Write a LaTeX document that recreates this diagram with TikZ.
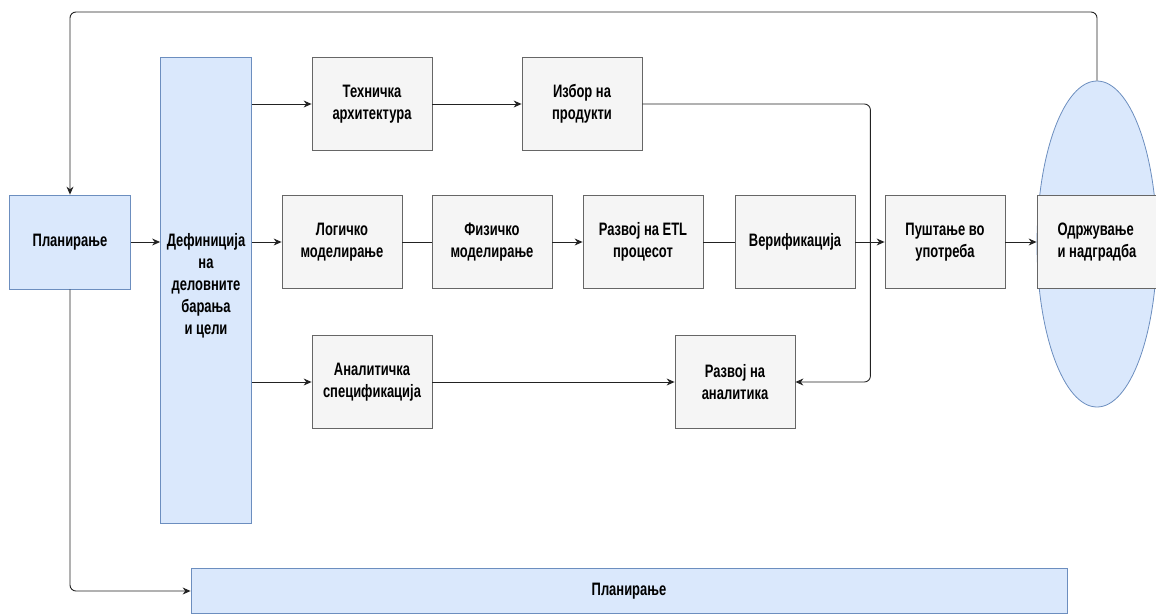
\documentclass[tikz,border=0pt]{standalone}
\usepackage{fontspec}
\setmainfont{Liberation Sans}[FakeStretch=0.72]
\usetikzlibrary{arrows.meta,shapes.geometric}
\definecolor{bluefill}{HTML}{DAE8FC}
\definecolor{bluedraw}{HTML}{6C8EBF}
\definecolor{grayfill}{HTML}{F5F5F5}
\definecolor{graydraw}{HTML}{666666}
\definecolor{linecol}{HTML}{222222}
\begin{document}
\begin{tikzpicture}[x=1pt, y=-1pt, font=\bfseries\fontsize{18}{22}\selectfont,
    bluebox/.style={draw=bluedraw, fill=bluefill, line width=0.8pt, inner sep=0pt, align=center},
    graybox/.style={draw=graydraw, fill=grayfill, line width=0.8pt, minimum width=120pt, minimum height=93pt, inner sep=0pt, align=center},
    conn/.style={draw=linecol, line width=0.9pt},
    >={Stealth[length=8pt, width=7pt]}]
        \useasboundingbox (0,0) rectangle (1156,614);
        % left column
        \node[bluebox, minimum width=121pt, minimum height=94pt] (plan) at (70,242) {Планирање};
        \node[bluebox, minimum width=91pt, minimum height=466pt] (def) at (206,290) {};
        \node[align=center, inner sep=0pt] (deftext) at (206,286) {Дефиниција\\на\\деловните\\барања\\и цели};
        \node[bluebox, minimum width=876pt, minimum height=45pt] (plan2) at (629,591) {Планирање};
        % maintenance
        \node[ellipse, draw=bluedraw, fill=bluefill, line width=0.8pt, minimum width=120pt, minimum height=326pt] (maintbg) at (1097,244) {};
        \node[graybox, align=left] (maint) at (1097,242) {Одржување\\и надградба};
        % top row
        \node[graybox] (tech) at (372,104) {Техничка\\архитектура};
        \node[graybox] (prod) at (582,104) {Избор на\\продукти};
        % middle row
        \node[graybox] (logic) at (342,242) {Логичко\\моделирање};
        \node[graybox] (phys) at (492,242) {Физичко\\моделирање};
        \node[graybox] (etl) at (643,242) {Развој на ETL\\процесот};
        \node[graybox] (verif) at (795,242) {Верификација};
        \node[graybox] (deploy) at (945,242) {Пуштање во\\употреба};
        % bottom row
        \node[graybox] (aspec) at (372,382) {Аналитичка\\спецификација};
        \node[graybox] (analyt) at (735,382) {Развој на\\аналитика};

        % connectors
        \draw[conn, ->] (plan.east) -- (plan.east -| def.west);
        \draw[conn, ->] (def.east |- tech.west) -- (tech.west);
        \draw[conn, ->] (def.east |- logic.west) -- (logic.west);
        \draw[conn, ->] (def.east |- aspec.west) -- (aspec.west);
        \draw[conn, ->] (tech) -- (prod);
        \draw[conn] (logic) -- (phys);
        \draw[conn, ->] (phys) -- (etl);
        \draw[conn] (etl) -- (verif);
        \draw[conn, ->] (verif) -- (deploy);
        \draw[conn, ->] (deploy) -- (maint);
        \draw[conn, ->] (aspec) -- (analyt);
        \draw[conn, ->, rounded corners=6pt] (prod.east) -- ++(228,0) |- (analyt.east);
        \draw[conn, ->, rounded corners=6pt] (maintbg.north) |- (70,12) -- (plan.north);
        \draw[conn, ->, rounded corners=6pt] (plan.south) |- (plan2.west);
\end{tikzpicture}
\end{document}
